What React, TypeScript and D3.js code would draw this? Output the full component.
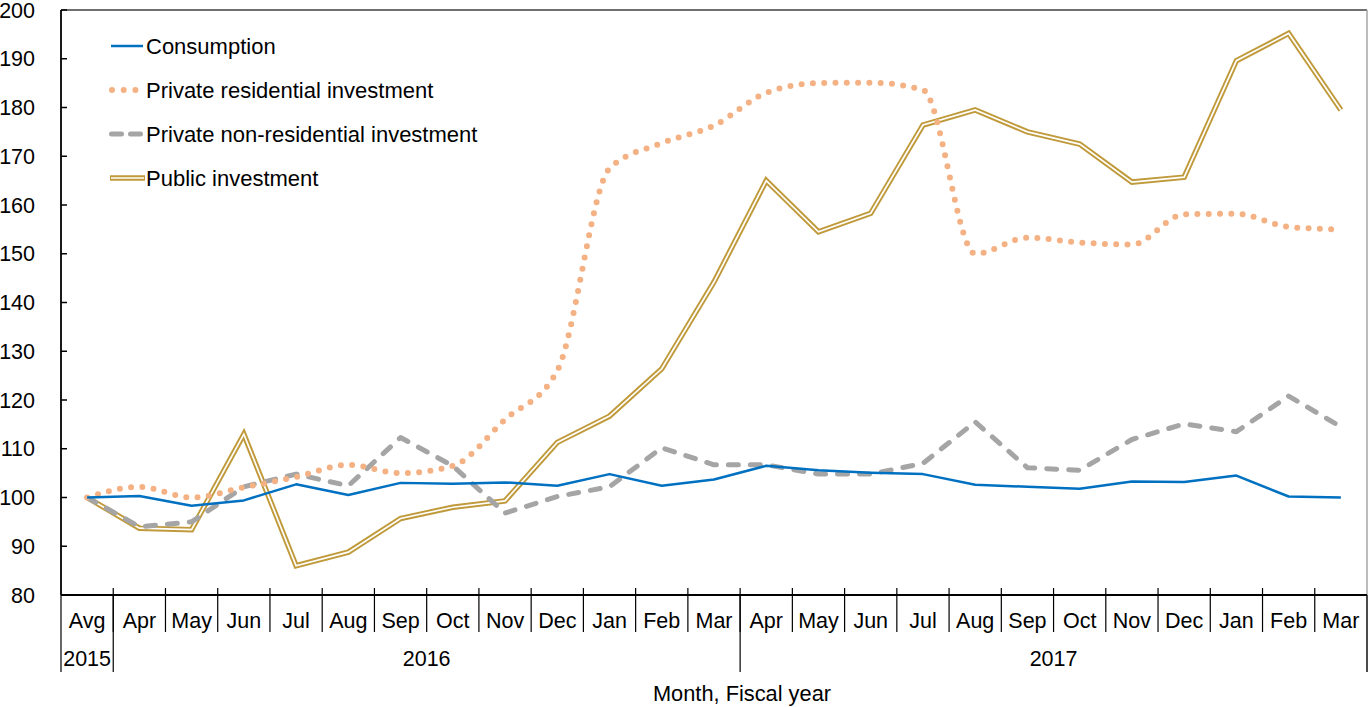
import React from "react";
import * as d3 from "d3";

const months = ["Avg","Apr","May","Jun","Jul","Aug","Sep","Oct","Nov","Dec","Jan","Feb","Mar","Apr","May","Jun","Jul","Aug","Sep","Oct","Nov","Dec","Jan","Feb","Mar"];
const yearLabels = ["2015", "2016", "2017"];
const yearSpans = [1, 12, 12];
const yTicks = [80, 90, 100, 110, 120, 130, 140, 150, 160, 170, 180, 190, 200];

const consumption = [100,100.3,98.3,99.4,102.7,100.5,103.0,102.8,103.1,102.4,104.8,102.4,103.7,106.5,105.6,105.1,104.8,102.6,102.2,101.8,103.3,103.2,104.5,100.2,100.0];
const residential = [100,102.2,100.0,102.1,104.2,106.7,105.0,106.5,116.0,126.0,167.5,172.7,176.3,183.0,185.0,185.1,183.6,150.0,153.3,152.3,151.9,158.1,158.2,155.5,155.0];
const nonResidential = [100,94.0,95.0,102.2,104.8,102.4,112.3,106.5,96.8,100.2,102.2,110.2,106.7,106.7,104.8,104.8,107.0,115.5,106.1,105.6,111.9,115.1,113.5,120.8,114.5];
const publicInv = [100,93.7,93.4,113.0,86.0,88.8,95.7,98.0,99.3,111.3,116.7,126.4,144.2,165.0,154.5,158.3,176.4,179.5,175.0,172.5,164.7,165.7,189.6,195.2,179.5];

const seriesNames = ["Consumption", "Private residential investment", "Private non-residential investment", "Public investment"];

const W = 1369, H = 707;
const L = 61, R = 1367, T = 10, B = 595;
const FONT = "'Liberation Sans', Arial, sans-serif";
const BLUE = "#0070C0", PEACH = "#F4B183", GRAY = "#A5A5A5", GOLD = "#C09A3A";

export default function App() {
  const idx = d3.range(months.length).map(String);
  const x = d3.scaleBand<string>().domain(idx).range([L, R]).padding(0);
  const bw = x.bandwidth();
  const cx = (i: number) => (x(String(i)) as number) + bw / 2;
  const y = d3.scaleLinear().domain([80, 200]).range([B, T]);

  const straight = d3.line<number>().x((_, i) => cx(i)).y((v) => y(v));
  const smooth = d3.line<number>().x((_, i) => cx(i)).y((v) => y(v)).curve(d3.curveMonotoneX);

  const yearBounds: number[] = [0];
  yearSpans.forEach((s) => yearBounds.push(yearBounds[yearBounds.length - 1] + s));
  const bx = (k: number) => L + k * bw;

  const legendY = [46, 90, 134, 178];

  return (
    <svg width={W} height={H} style={{ position: "absolute", left: 0, top: 0, background: "#fff" }} fontFamily={FONT}>
      <rect x={0} y={0} width={W} height={H} fill="#fff" />
      <line x1={L} x2={R} y1={T} y2={T} stroke="#404040" strokeWidth={1.5} />
      <line x1={R} x2={R} y1={T} y2={672} stroke="#A6A6A6" strokeWidth={1.5} />

      {yTicks.map((t) => (
        <g key={t}>
          <line x1={L} x2={L + 6} y1={y(t)} y2={y(t)} stroke="#000" strokeWidth={1.5} />
          <text x={35} y={y(t)} dy="0.35em" textAnchor="end" fontSize={21.5}>{t}</text>
        </g>
      ))}

      {d3.range(1, months.length).map((k) => (
        <line key={k} x1={bx(k)} x2={bx(k)} y1={588} y2={632} stroke="#000" strokeWidth={1.2} />
      ))}
      {yearBounds.map((k) => (
        <line key={"yb" + k} x1={bx(k)} x2={bx(k)} y1={B} y2={672} stroke="#000" strokeWidth={1.2} />
      ))}
      {months.map((m, i) => (
        <text key={"m" + i} x={cx(i)} y={628} textAnchor="middle" fontSize={21.5}>{m}</text>
      ))}
      {yearLabels.map((lab, j) => (
        <text key={lab} x={(bx(yearBounds[j]) + bx(yearBounds[j + 1])) / 2} y={666} textAnchor="middle" fontSize={21.5}>{lab}</text>
      ))}
      <text x={742} y={701} textAnchor="middle" fontSize={21.8}>Month, Fiscal year</text>

      <path d={straight(publicInv) as string} fill="none" stroke={GOLD} strokeWidth={5.5} strokeLinejoin="miter" />
      <path d={straight(publicInv) as string} fill="none" stroke="#fff" strokeWidth={1.7} strokeLinejoin="miter" />
      <path d={straight(nonResidential) as string} fill="none" stroke={GRAY} strokeWidth={5} strokeDasharray="10 12" strokeLinecap="round" strokeLinejoin="round" />
      <path d={smooth(residential) as string} fill="none" stroke={PEACH} strokeWidth={6} strokeDasharray="0 11.3" strokeLinecap="round" />
      <path d={straight(consumption) as string} fill="none" stroke={BLUE} strokeWidth={2.5} strokeLinejoin="round" />

      <line x1={L} x2={L} y1={T} y2={B} stroke="#000" strokeWidth={1.8} />
      <line x1={L} x2={R} y1={B} y2={B} stroke="#000" strokeWidth={1.8} />

      <line x1={111} x2={143} y1={legendY[0]} y2={legendY[0]} stroke={BLUE} strokeWidth={2.5} />
      <line x1={112} x2={136} y1={legendY[1]} y2={legendY[1]} stroke={PEACH} strokeWidth={6} strokeDasharray="0 11.7" strokeLinecap="round" />
      <line x1={111.5} x2={141} y1={legendY[2]} y2={legendY[2]} stroke={GRAY} strokeWidth={5} strokeDasharray="10 9" strokeLinecap="round" />
      <line x1={110} x2={145} y1={legendY[3]} y2={legendY[3]} stroke={GOLD} strokeWidth={5.5} />
      <line x1={111} x2={144} y1={legendY[3]} y2={legendY[3]} stroke="#fff" strokeWidth={1.7} />
      {seriesNames.map((n, i) => (
        <text key={n} x={146} y={legendY[i]} dy="0.35em" fontSize={22}>{n}</text>
      ))}
    </svg>
  );
}
